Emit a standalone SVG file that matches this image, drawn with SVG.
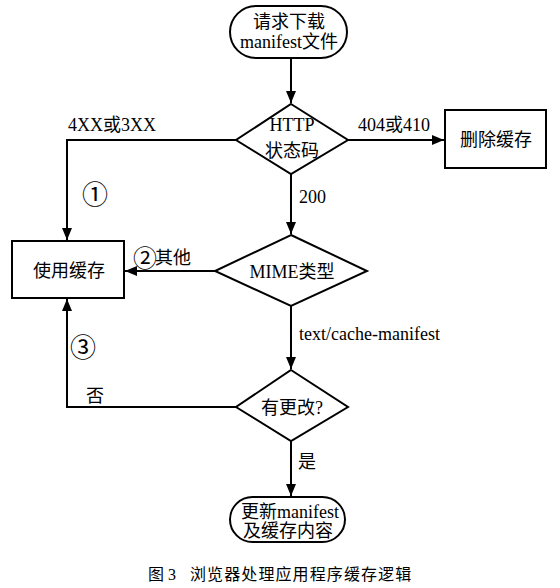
<svg xmlns="http://www.w3.org/2000/svg" width="560" height="588" viewBox="0 0 560 588">
<defs>
<marker id="ah" markerWidth="12" markerHeight="10" refX="12" refY="5" orient="auto" markerUnits="userSpaceOnUse">
<path d="M0,0 L12,5 L0,10 Z" fill="#000"/>
</marker>
<style>
.s{fill:#fff;stroke:#000;stroke-width:2}
.t{font-family:"Liberation Serif","Noto Sans CJK SC",serif;font-size:18px;fill:#000}
.c{text-anchor:middle}
.n{font-family:"Noto Sans CJK SC",sans-serif;font-size:26px}
.e{fill:none;stroke:#000;stroke-width:2}
</style>
</defs>
<rect width="560" height="588" fill="#fff"/>
<g id="connectors">
<path class="e" d="M291,58 V103" marker-end="url(#ah)"/>
<path class="e" d="M348,140 H444" marker-end="url(#ah)"/>
<path class="e" d="M236,140 H67 V240" marker-end="url(#ah)"/>
<path class="e" d="M291,174 V234" marker-end="url(#ah)"/>
<path class="e" d="M215,271 H125" marker-end="url(#ah)"/>
<path class="e" d="M291,306 V369" marker-end="url(#ah)"/>
<path class="e" d="M236,407 H67 V299" marker-end="url(#ah)"/>
<path class="e" d="M291,441 V496" marker-end="url(#ah)"/>
<text class="t" x="68" y="131">4XX或3XX</text>
<text class="t" x="358" y="131">404或410</text>
<text class="t n c" x="95" y="204">①</text>
<text class="t" x="299" y="203">200</text>
<text class="t n c" x="145" y="267" style="font-size:24px">②</text>
<text class="t" x="155" y="264">其他</text>
<text class="t" x="299" y="340">text/cache-manifest</text>
<text class="t n c" x="83" y="357">③</text>
<text class="t" x="86" y="402">否</text>
<text class="t" x="298" y="468">是</text>
</g>
<g id="start">
<rect class="s" x="230" y="6" width="117" height="52" rx="26"/>
<text class="t c" x="289" y="28">请求下载</text>
<text class="t c" x="289" y="48">manifest文件</text>
</g>
<g id="http">
<polygon class="s" points="291,104 348,140 291,174 236,140"/>
<text class="t c" x="292" y="131">HTTP</text>
<text class="t c" x="292" y="157">状态码</text>
</g>
<g id="delete">
<rect class="s" x="445" y="110" width="101" height="58"/>
<text class="t c" x="496" y="146">删除缓存</text>
</g>
<g id="mime">
<polygon class="s" points="291,235 367,271 291,306 215,271"/>
<text class="t c" x="292" y="278">MIME类型</text>
</g>
<g id="use">
<rect class="s" x="12" y="241" width="112" height="57"/>
<text class="t c" x="69" y="277">使用缓存</text>
</g>
<g id="changed">
<polygon class="s" points="291,370 348,407 291,441 236,407"/>
<text class="t c" x="292" y="414">有更改?</text>
</g>
<g id="end">
<rect class="s" x="230" y="497" width="115" height="45" rx="22.5"/>
<text class="t c" x="290" y="518">更新manifest</text>
<text class="t c" x="288" y="537">及缓存内容</text>
</g>
<text class="t" x="148" y="580" style="font-size:16px">图 3<tspan x="190" style="letter-spacing:1.1px">浏览器处理应用程序缓存逻辑</tspan></text>
</svg>
